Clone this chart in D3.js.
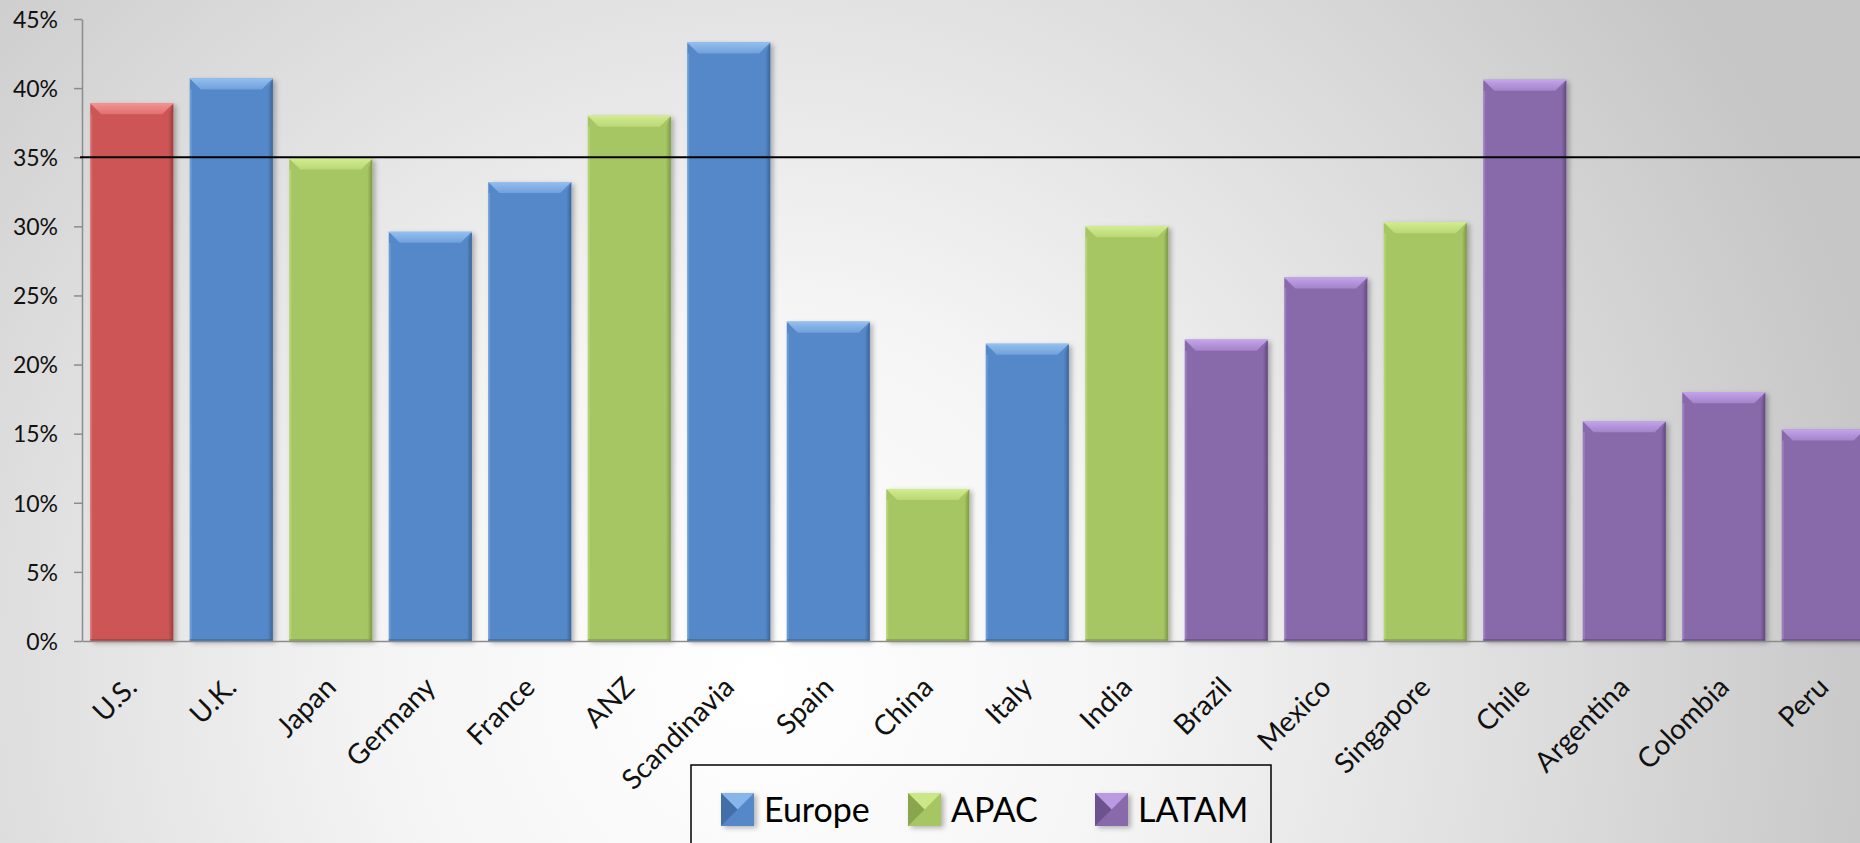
<!DOCTYPE html>
<html><head><meta charset="utf-8">
<script src="https://cdn.jsdelivr.net/npm/d3@7"></script>
<style>html,body{margin:0;padding:0;overflow:hidden;background:#fff}</style>
</head><body><svg id="c" width="1860" height="843"></svg>
<script>
const categories = ["U.S.","U.K.","Japan","Germany","France","ANZ","Scandinavia","Spain","China","Italy","India","Brazil","Mexico","Singapore","Chile","Argentina","Colombia","Peru"];
const values = [0.389,0.407,0.349,0.296,0.332,0.380,0.433,0.231,0.110,0.215,0.300,0.218,0.263,0.303,0.406,0.159,0.180,0.153];
const regions = ["US","Europe","APAC","Europe","Europe","APAC","Europe","Europe","APAC","Europe","APAC","LATAM","LATAM","APAC","LATAM","LATAM","LATAM","LATAM"];
const yTicks = [0,0.05,0.10,0.15,0.20,0.25,0.30,0.35,0.40,0.45];
const referenceValue = 0.35;
const legendItems = ["Europe","APAC","LATAM"];

const palette = {
  US:     {base:"#CD5554", light:"#F29392", dark:"#9C3E3C"},
  Europe: {base:"#5588C8", light:"#93BEF0", dark:"#3B6599"},
  APAC:   {base:"#A6C663", light:"#D2EC8E", dark:"#7D9944"},
  LATAM:  {base:"#8869AA", light:"#C3A4EC", dark:"#624A80"}
};

const W = 1860, H = 843;
const svg = d3.select("#c");
const defs = svg.append("defs");

// background
const bg = defs.append("radialGradient").attr("id","bg").attr("gradientUnits","userSpaceOnUse")
  .attr("cx",760).attr("cy",680).attr("r",1150);
bg.append("stop").attr("offset",0).attr("stop-color","#ffffff");
bg.append("stop").attr("offset",0.32).attr("stop-color","#f5f5f5");
bg.append("stop").attr("offset",0.72).attr("stop-color","#dadada");
bg.append("stop").attr("offset",1).attr("stop-color","#c6c6c6");
svg.append("rect").attr("width",W).attr("height",H).attr("fill","url(#bg)");

const sh = defs.append("filter").attr("id","sh").attr("x","-10%").attr("y","-10%").attr("width","130%").attr("height","130%");
sh.append("feDropShadow").attr("dx",3).attr("dy",2).attr("stdDeviation",2.5).attr("flood-color","#000").attr("flood-opacity",0.28);

Object.entries(palette).forEach(([k,c])=>{
  const g = defs.append("linearGradient").attr("id","top"+k).attr("x1",0).attr("y1",0).attr("x2",0).attr("y2",1);
  g.append("stop").attr("offset",0).attr("stop-color",c.light);
  g.append("stop").attr("offset",1).attr("stop-color",d3.interpolateRgb(c.light,c.base)(0.55));
  const r = defs.append("linearGradient").attr("id","rt"+k).attr("x1",0).attr("y1",0).attr("x2",1).attr("y2",0);
  r.append("stop").attr("offset",0).attr("stop-color",c.base);
  r.append("stop").attr("offset",1).attr("stop-color",c.dark);
});

const x0 = 82, y0 = 641, yTop = 19;
const step = 99.5;
const x = d3.scaleBand().domain(categories).range([x0, x0 + step*categories.length]).paddingInner(0.166).paddingOuter(0.083);
const y = d3.scaleLinear().domain([0,0.45]).range([y0,yTop]);

const font = "Lato, 'Open Sans', sans-serif";

// bars
const bw = x.bandwidth();
const bars = svg.append("g").selectAll("g").data(categories).join("g")
  .attr("transform",(d,i)=>`translate(${x(d)},${y(values[i])})`);
bars.each(function(d,i){
  const g = d3.select(this);
  const h = y0 - y(values[i]);
  const c = palette[regions[i]];
  const k = regions[i];
  const b = 11, r = 5;
  g.append("rect").attr("width",bw).attr("height",h).attr("fill",c.base).attr("filter","url(#sh)");
  g.append("rect").attr("x",0).attr("y",b).attr("width",2).attr("height",h-b).attr("fill",c.light).attr("opacity",0.35);
  g.append("polygon").attr("points",`${bw-r},${b} ${bw},0 ${bw},${h} ${bw-r},${h}`).attr("fill",`url(#rt${k})`);
  g.append("rect").attr("x",0).attr("y",h-2).attr("width",bw).attr("height",2).attr("fill",c.dark).attr("opacity",0.6);
  g.append("polygon").attr("points",`0,0 ${bw},0 ${bw-b},${b} ${b},${b}`).attr("fill",`url(#top${k})`);
  g.append("line").attr("x1",0).attr("x2",bw).attr("y1",0.5).attr("y2",0.5).attr("stroke",c.light).attr("stroke-width",1);
});

// y axis
const yAxis = d3.axisLeft(y).tickValues(yTicks).tickFormat(d3.format(".0%")).tickSize(8).tickSizeOuter(0);
const ya = svg.append("g").attr("transform",`translate(${x0},0)`).call(yAxis);
ya.select(".domain").attr("stroke","#8c8c8c").attr("stroke-width",1.5);
ya.selectAll(".tick line").attr("stroke","#8c8c8c").attr("stroke-width",1.5);
ya.selectAll(".tick text").attr("font-family",font).attr("font-size",23).attr("fill","#111").attr("x",-24).attr("dy","0.36em");

// x axis
const xAxis = d3.axisBottom(x).tickSize(0).tickSizeOuter(0);
const xa = svg.append("g").attr("transform",`translate(0,${y0})`).call(xAxis);
xa.select(".domain").attr("stroke","#8c8c8c").attr("stroke-width",1.5);
xa.selectAll(".tick text").attr("font-family",font).attr("font-size",28).attr("fill","#111")
  .attr("text-anchor","end").attr("y",0).attr("dy",0)
  .attr("transform","translate(7,48) rotate(-45)");

// reference line
svg.append("line").attr("x1",x0-2).attr("x2",W).attr("y1",y(referenceValue)).attr("y2",y(referenceValue))
  .attr("stroke","#000").attr("stroke-width",2);

// legend
const lg = svg.append("g");
lg.append("rect").attr("x",691).attr("y",765).attr("width",580).attr("height",120)
  .attr("fill","none").attr("stroke","#000").attr("stroke-width",1.5);
const legendX = [721, 908, 1095];
legendItems.forEach((name,i)=>{
  const c = palette[name];
  const gx = legendX[i], gy = 793, s = 33;
  const g = lg.append("g").attr("transform",`translate(${gx},${gy})`);
  g.append("rect").attr("width",s).attr("height",s).attr("fill",c.base).attr("filter","url(#sh)");
  g.append("polygon").attr("points",`0,0 ${s},0 ${s/2},${s/2}`).attr("fill",c.light).attr("opacity",0.85);
  g.append("polygon").attr("points",`0,0 ${s/2},${s/2} 0,${s}`).attr("fill",c.dark).attr("opacity",0.7);
  lg.append("text").attr("x",gx+s+10).attr("y",gy+s/2).attr("dy","0.36em")
    .attr("font-family",font).attr("font-size",34).attr("fill","#000").text(name);
});
</script></body></html>
